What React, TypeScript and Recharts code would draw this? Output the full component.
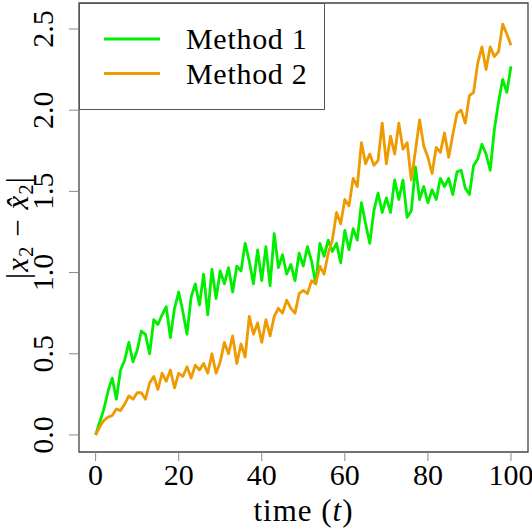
import React from 'react';
import { LineChart, Line, XAxis, YAxis, ReferenceArea, Legend, Label } from 'recharts';

// values, one per time step (t = 0..100)
const method1 = [
  0.0, 0.08, 0.16, 0.27, 0.35, 0.22, 0.4, 0.46, 0.57, 0.45,
  0.52, 0.64, 0.62, 0.5, 0.71, 0.68, 0.74, 0.79, 0.6, 0.78,
  0.88, 0.76, 0.62, 0.85, 0.93, 0.8, 0.99, 0.74, 1.02, 0.84,
  1.01, 0.93, 1.03, 0.88, 1.04, 1.01, 1.18, 1.07, 0.93, 1.14,
  0.95, 1.16, 0.92, 1.24, 1.03, 1.11, 0.99, 1.05, 0.95, 1.12,
  1.04, 1.16, 1.07, 0.93, 1.18, 1.1, 1.2, 1.13, 1.18, 1.06,
  1.26, 1.14, 1.27, 1.2, 1.43, 1.3, 1.18, 1.38, 1.49, 1.37,
  1.46, 1.37, 1.57, 1.45, 1.57, 1.34, 1.38, 1.65, 1.45, 1.53,
  1.43, 1.51, 1.45, 1.58, 1.53, 1.58, 1.48, 1.62, 1.63, 1.52,
  1.48, 1.66, 1.7, 1.79, 1.73, 1.63, 1.88, 2.05, 2.19, 2.11,
  2.27,
];

const method2 = [
  0.0, 0.05, 0.09, 0.11, 0.12, 0.16, 0.15, 0.19, 0.24, 0.22,
  0.26, 0.26, 0.22, 0.32, 0.36, 0.28, 0.38, 0.33, 0.4, 0.29,
  0.38, 0.36, 0.42, 0.35, 0.43, 0.4, 0.44, 0.38, 0.5, 0.38,
  0.45, 0.57, 0.5, 0.61, 0.44, 0.56, 0.48, 0.73, 0.62, 0.69,
  0.57, 0.71, 0.61, 0.73, 0.78, 0.75, 0.83, 0.78, 0.75, 0.87,
  0.89, 0.87, 0.95, 0.93, 1.04, 0.99, 1.12, 1.2, 1.37, 1.3,
  1.45, 1.41, 1.58, 1.53, 1.8, 1.67, 1.73, 1.66, 1.69, 1.92,
  1.67, 1.84, 1.73, 1.92, 1.76, 1.8, 1.57, 1.75, 1.94, 1.78,
  1.71, 1.61, 1.77, 1.74, 1.86, 1.71, 1.85, 1.98, 2.0, 1.92,
  2.09, 2.11, 2.29, 2.39, 2.25, 2.39, 2.33, 2.36, 2.53, 2.47,
  2.4,
];

const xTicks = [0, 20, 40, 60, 80, 100];
const yTicks = [0, 0.5, 1, 1.5, 2, 2.5];
const seriesNames = ['Method 1', 'Method 2'];
const seriesColors = ['#00EE00', '#EE9A00'];

const X_DOMAIN: [number, number] = [-4, 104.1];
const Y_DOMAIN: [number, number] = [-0.105, 2.66];

const FONT = 'Liberation Serif';

const data = method1.map((v, i) => ({ t: i, m1: v, m2: method2[i] }));

const XTick = ({ x, y, payload }: any) => (
  <text x={x} y={y + 22} textAnchor="middle" fontFamily={FONT} fontSize={30} fill="#000">
    {payload.value}
  </text>
);

const YTick = ({ x, y, payload }: any) => {
  const bx = x - 14;
  return (
    <text
      x={bx}
      y={y}
      transform={`rotate(-90, ${bx}, ${y})`}
      textAnchor="middle"
      fontFamily={FONT}
      fontSize={30}
      fill="#000"
    >
      {Number(payload.value).toFixed(1)}
    </text>
  );
};

const XTitle = ({ viewBox }: any) => {
  const cx = viewBox.x + viewBox.width / 2;
  return (
    <text x={cx} y={521} textAnchor="middle" fontFamily={FONT} fontSize={31} letterSpacing={1} fill="#000">
      time (<tspan fontStyle="italic">t</tspan>)
    </text>
  );
};

const YTitle = ({ viewBox }: any) => {
  const cy = viewBox.y + viewBox.height / 2;
  const bx = 28;
  return (
    <text
      x={bx}
      y={cy}
      transform={`rotate(-90, ${bx}, ${cy})`}
      textAnchor="middle"
      fontFamily={FONT}
      fontSize={31}
      letterSpacing={1}
      fill="#000"
    >
      <tspan>|</tspan>
      <tspan fontStyle="italic">x</tspan>
      <tspan fontSize={21} dy={5}>2</tspan>
      <tspan dy={-5}> − </tspan>
      <tspan fontStyle="italic">x̂</tspan>
      <tspan fontSize={21} dy={5}>2</tspan>
      <tspan dy={-5}>|</tspan>
    </text>
  );
};

const LegendBox = () => (
  <svg width={246} height={107} style={{ display: 'block' }}>
    <rect x={0.5} y={0.5} width={245} height={106} fill="#fff" stroke="#555" strokeWidth={1} />
    {seriesNames.map((name, i) => (
      <g key={name}>
        <line x1={25} x2={81} y1={36 + i * 34.5} y2={36 + i * 34.5} stroke={seriesColors[i]} strokeWidth={3} />
        <text x={107} y={46 + i * 34.5} fontFamily={FONT} fontSize={30} letterSpacing={0.7} fill="#000">
          {name}
        </text>
      </g>
    ))}
  </svg>
);

export default function App() {
  return (
    <div style={{ position: 'absolute', left: 0, top: 0, width: 532, height: 532, background: '#fff', fontFamily: FONT }}>
      <LineChart width={532} height={532} data={data} margin={{ top: 3, right: 4, bottom: 0, left: 0 }}>
        <XAxis
          dataKey="t"
          type="number"
          domain={X_DOMAIN}
          ticks={xTicks}
          allowDataOverflow
          height={80}
          tickSize={9}
          tickMargin={2}
          axisLine={false}
          tickLine={{ stroke: '#888' }}
          tick={<XTick />}
        >
          <Label content={<XTitle />} />
        </XAxis>
        <YAxis
          type="number"
          domain={Y_DOMAIN}
          ticks={yTicks}
          allowDataOverflow
          width={79}
          tickSize={10}
          tickMargin={2}
          axisLine={false}
          tickLine={{ stroke: '#888' }}
          tick={<YTick />}
        >
          <Label content={<YTitle />} />
        </YAxis>
        <ReferenceArea
          x1={X_DOMAIN[0]}
          x2={X_DOMAIN[1]}
          y1={Y_DOMAIN[0]}
          y2={Y_DOMAIN[1]}
          fill="none"
          stroke="#444"
          strokeWidth={1.3}
          ifOverflow="extendDomain"
        />
        <Line
          dataKey="m1"
          name={seriesNames[0]}
          type="linear"
          stroke={seriesColors[0]}
          strokeWidth={2.8}
          strokeLinejoin="round"
          dot={false}
          isAnimationActive={false}
        />
        <Line
          dataKey="m2"
          name={seriesNames[1]}
          type="linear"
          stroke={seriesColors[1]}
          strokeWidth={2.8}
          strokeLinejoin="round"
          dot={false}
          isAnimationActive={false}
        />
        <Legend
          layout="vertical"
          align="center"
          verticalAlign="middle"
          content={<LegendBox />}
          wrapperStyle={{ position: 'absolute', left: 79, top: 3, width: 246, height: 107 }}
        />
      </LineChart>
    </div>
  );
}
